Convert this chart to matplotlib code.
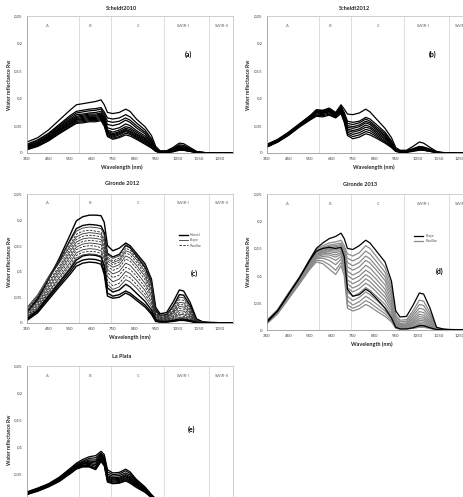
import matplotlib
matplotlib.use('Agg')
import matplotlib.pyplot as plt
from matplotlib.lines import Line2D

plt.rcParams['font.family'] = ['Lato', 'DejaVu Sans']

# ---------------- data ----------------
WAVELENGTH = [350, 400, 450, 500, 550, 580, 610, 640, 670, 695, 710, 725, 750, 780, 810,
              830, 860, 900, 930, 950, 970, 1000, 1030, 1060, 1080, 1110, 1140, 1170, 1200, 1310]

XTICKS = [350, 450, 550, 650, 750, 850, 950, 1050, 1150, 1250]
YTICKS = [0, 0.05, 0.1, 0.15, 0.2, 0.25]
YTICK_LABELS = ['0', '0,05', '0,1', '0,15', '0,2', '0,25']
REGION_NAMES = ['A', 'B', 'C', 'SWIR-I', 'SWIR-II']
REGION_LABEL_X = [445, 645, 868, 1080, 1257]
REGION_BOUNDS = [592, 742, 990, 1200]

SCHELDT2010 = [
    [0.020, 0.028, 0.042, 0.060, 0.078, 0.088, 0.090, 0.092, 0.094, 0.097, 0.088, 0.074, 0.072, 0.074, 0.080, 0.076, 0.062, 0.048, 0.032, 0.012, 0.004, 0.004, 0.010, 0.018, 0.017, 0.010, 0.003, 0.001, 0, 0],
    [0.016, 0.024, 0.036, 0.052, 0.068, 0.076, 0.078, 0.080, 0.081, 0.083, 0.075, 0.064, 0.062, 0.064, 0.070, 0.066, 0.055, 0.042, 0.026, 0.009, 0.003, 0.003, 0.008, 0.015, 0.014, 0.008, 0.002, 0.001, 0, 0],
    [0.014, 0.022, 0.034, 0.050, 0.065, 0.073, 0.075, 0.077, 0.078, 0.080, 0.071, 0.058, 0.056, 0.058, 0.064, 0.060, 0.050, 0.038, 0.023, 0.008, 0.003, 0.003, 0.007, 0.013, 0.012, 0.007, 0.002, 0.001, 0, 0],
    [0.013, 0.020, 0.032, 0.048, 0.062, 0.070, 0.071, 0.073, 0.074, 0.076, 0.067, 0.052, 0.050, 0.053, 0.060, 0.056, 0.046, 0.035, 0.020, 0.007, 0.002, 0.002, 0.006, 0.012, 0.011, 0.006, 0.002, 0.001, 0, 0],
    [0.012, 0.019, 0.030, 0.046, 0.060, 0.067, 0.069, 0.071, 0.071, 0.073, 0.064, 0.046, 0.043, 0.046, 0.053, 0.050, 0.041, 0.031, 0.018, 0.006, 0.002, 0.002, 0.005, 0.010, 0.009, 0.005, 0.002, 0, 0, 0],
    [0.011, 0.018, 0.029, 0.044, 0.058, 0.065, 0.067, 0.069, 0.069, 0.071, 0.062, 0.042, 0.038, 0.042, 0.048, 0.046, 0.038, 0.028, 0.016, 0.005, 0.002, 0.002, 0.005, 0.009, 0.009, 0.005, 0.001, 0, 0, 0],
    [0.010, 0.017, 0.028, 0.043, 0.056, 0.063, 0.065, 0.067, 0.067, 0.069, 0.059, 0.040, 0.035, 0.039, 0.045, 0.043, 0.035, 0.026, 0.015, 0.005, 0.002, 0.002, 0.004, 0.008, 0.008, 0.004, 0.001, 0, 0, 0],
    [0.010, 0.016, 0.027, 0.041, 0.054, 0.061, 0.063, 0.065, 0.065, 0.067, 0.057, 0.038, 0.033, 0.037, 0.043, 0.040, 0.033, 0.024, 0.014, 0.004, 0.001, 0.001, 0.004, 0.008, 0.007, 0.004, 0.001, 0, 0, 0],
    [0.009, 0.015, 0.026, 0.040, 0.053, 0.060, 0.061, 0.063, 0.063, 0.065, 0.055, 0.036, 0.031, 0.035, 0.041, 0.038, 0.031, 0.022, 0.013, 0.004, 0.001, 0.001, 0.003, 0.007, 0.007, 0.004, 0.001, 0, 0, 0],
    [0.008, 0.014, 0.025, 0.038, 0.051, 0.058, 0.059, 0.061, 0.061, 0.063, 0.053, 0.034, 0.029, 0.033, 0.039, 0.036, 0.029, 0.020, 0.012, 0.004, 0.001, 0.001, 0.003, 0.006, 0.006, 0.003, 0.001, 0, 0, 0],
    [0.007, 0.013, 0.023, 0.036, 0.049, 0.056, 0.057, 0.059, 0.059, 0.061, 0.051, 0.032, 0.027, 0.030, 0.036, 0.034, 0.027, 0.018, 0.010, 0.003, 0.001, 0.001, 0.003, 0.006, 0.005, 0.003, 0.001, 0, 0, 0],
    [0.006, 0.012, 0.022, 0.035, 0.047, 0.054, 0.055, 0.057, 0.057, 0.059, 0.049, 0.030, 0.025, 0.028, 0.033, 0.031, 0.025, 0.016, 0.009, 0.003, 0.001, 0.001, 0.002, 0.005, 0.005, 0.003, 0.001, 0, 0, 0],
]

SCHELDT2012 = [
    [0.016, 0.025, 0.038, 0.053, 0.068, 0.079, 0.078, 0.082, 0.074, 0.088, 0.080, 0.071, 0.070, 0.073, 0.080, 0.075, 0.062, 0.045, 0.028, 0.010, 0.005, 0.005, 0.012, 0.020, 0.018, 0.010, 0.003, 0.001, 0, 0],
    [0.015, 0.024, 0.037, 0.052, 0.067, 0.078, 0.077, 0.080, 0.072, 0.085, 0.074, 0.058, 0.056, 0.058, 0.065, 0.062, 0.052, 0.038, 0.022, 0.007, 0.004, 0.004, 0.008, 0.012, 0.011, 0.007, 0.002, 0, 0, 0],
    [0.014, 0.023, 0.036, 0.051, 0.066, 0.077, 0.076, 0.079, 0.071, 0.084, 0.071, 0.054, 0.052, 0.055, 0.062, 0.058, 0.048, 0.035, 0.020, 0.006, 0.003, 0.003, 0.007, 0.011, 0.010, 0.006, 0.002, 0, 0, 0],
    [0.014, 0.023, 0.036, 0.051, 0.066, 0.076, 0.075, 0.078, 0.070, 0.082, 0.068, 0.050, 0.048, 0.051, 0.058, 0.055, 0.045, 0.032, 0.018, 0.006, 0.003, 0.003, 0.006, 0.010, 0.009, 0.005, 0.001, 0, 0, 0],
    [0.013, 0.022, 0.035, 0.050, 0.065, 0.075, 0.074, 0.077, 0.069, 0.081, 0.066, 0.047, 0.045, 0.048, 0.055, 0.052, 0.042, 0.030, 0.016, 0.005, 0.003, 0.003, 0.006, 0.009, 0.008, 0.005, 0.001, 0, 0, 0],
    [0.013, 0.022, 0.035, 0.050, 0.064, 0.074, 0.073, 0.076, 0.068, 0.080, 0.064, 0.044, 0.041, 0.044, 0.051, 0.048, 0.039, 0.027, 0.015, 0.005, 0.002, 0.002, 0.005, 0.008, 0.008, 0.004, 0.001, 0, 0, 0],
    [0.012, 0.021, 0.034, 0.049, 0.063, 0.073, 0.072, 0.075, 0.067, 0.078, 0.062, 0.041, 0.038, 0.041, 0.047, 0.045, 0.036, 0.025, 0.013, 0.004, 0.002, 0.002, 0.005, 0.007, 0.007, 0.004, 0.001, 0, 0, 0],
    [0.012, 0.021, 0.034, 0.049, 0.062, 0.071, 0.070, 0.073, 0.066, 0.076, 0.060, 0.038, 0.034, 0.037, 0.043, 0.041, 0.033, 0.022, 0.012, 0.004, 0.002, 0.002, 0.004, 0.007, 0.006, 0.003, 0.001, 0, 0, 0],
    [0.011, 0.020, 0.033, 0.048, 0.061, 0.069, 0.068, 0.071, 0.065, 0.074, 0.058, 0.035, 0.030, 0.033, 0.039, 0.037, 0.030, 0.020, 0.011, 0.003, 0.002, 0.002, 0.004, 0.006, 0.005, 0.003, 0.001, 0, 0, 0],
    [0.011, 0.020, 0.032, 0.047, 0.060, 0.067, 0.066, 0.069, 0.064, 0.072, 0.056, 0.032, 0.026, 0.029, 0.035, 0.033, 0.027, 0.018, 0.010, 0.003, 0.001, 0.001, 0.003, 0.005, 0.005, 0.003, 0.001, 0, 0, 0],
]

GIRONDE2012_SITE = ['Nassel', 'Nassel', 'Blaye', 'Pauillac', 'Blaye', 'Pauillac', 'Blaye', 'Pauillac',
                    'Blaye', 'Pauillac', 'Blaye', 'Pauillac', 'Blaye', 'Nassel', 'Nassel', 'Nassel']
GIRONDE2012 = [
    [0.020, 0.045, 0.085, 0.125, 0.170, 0.198, 0.206, 0.209, 0.209, 0.208, 0.195, 0.150, 0.140, 0.145, 0.155, 0.150, 0.135, 0.115, 0.085, 0.030, 0.018, 0.020, 0.040, 0.064, 0.062, 0.040, 0.008, 0.002, 0.001, 0],
    [0.022, 0.048, 0.085, 0.120, 0.160, 0.183, 0.189, 0.191, 0.190, 0.188, 0.175, 0.135, 0.128, 0.133, 0.150, 0.146, 0.130, 0.108, 0.078, 0.025, 0.015, 0.016, 0.032, 0.055, 0.054, 0.034, 0.006, 0.002, 0.001, 0],
    [0.030, 0.055, 0.090, 0.122, 0.158, 0.178, 0.184, 0.186, 0.185, 0.183, 0.170, 0.132, 0.125, 0.130, 0.152, 0.148, 0.133, 0.112, 0.080, 0.022, 0.014, 0.015, 0.030, 0.050, 0.049, 0.030, 0.005, 0.001, 0.001, 0],
    [0.025, 0.050, 0.085, 0.118, 0.152, 0.172, 0.178, 0.180, 0.178, 0.176, 0.162, 0.128, 0.120, 0.126, 0.145, 0.141, 0.127, 0.105, 0.074, 0.020, 0.012, 0.013, 0.026, 0.045, 0.044, 0.027, 0.004, 0.001, 0, 0],
    [0.028, 0.052, 0.086, 0.116, 0.148, 0.167, 0.173, 0.175, 0.174, 0.172, 0.158, 0.124, 0.117, 0.122, 0.140, 0.137, 0.123, 0.100, 0.070, 0.018, 0.011, 0.012, 0.023, 0.040, 0.039, 0.024, 0.004, 0.001, 0, 0],
    [0.022, 0.046, 0.080, 0.110, 0.143, 0.162, 0.168, 0.170, 0.169, 0.167, 0.153, 0.120, 0.113, 0.118, 0.136, 0.132, 0.118, 0.095, 0.066, 0.016, 0.010, 0.011, 0.021, 0.036, 0.035, 0.021, 0.003, 0.001, 0, 0],
    [0.020, 0.043, 0.076, 0.106, 0.138, 0.157, 0.163, 0.165, 0.164, 0.162, 0.148, 0.115, 0.108, 0.113, 0.130, 0.126, 0.112, 0.090, 0.062, 0.015, 0.009, 0.010, 0.019, 0.032, 0.031, 0.019, 0.003, 0.001, 0, 0],
    [0.018, 0.040, 0.072, 0.102, 0.133, 0.152, 0.158, 0.160, 0.159, 0.157, 0.143, 0.110, 0.102, 0.107, 0.124, 0.120, 0.106, 0.084, 0.057, 0.013, 0.008, 0.009, 0.017, 0.028, 0.027, 0.016, 0.002, 0.001, 0, 0],
    [0.016, 0.037, 0.068, 0.098, 0.128, 0.147, 0.153, 0.155, 0.154, 0.152, 0.137, 0.104, 0.095, 0.100, 0.116, 0.112, 0.098, 0.077, 0.052, 0.012, 0.007, 0.008, 0.014, 0.024, 0.023, 0.014, 0.002, 0, 0, 0],
    [0.014, 0.034, 0.064, 0.093, 0.123, 0.142, 0.148, 0.150, 0.149, 0.146, 0.131, 0.098, 0.088, 0.093, 0.108, 0.104, 0.091, 0.070, 0.047, 0.010, 0.006, 0.007, 0.012, 0.020, 0.019, 0.012, 0.002, 0, 0, 0],
    [0.012, 0.031, 0.060, 0.088, 0.117, 0.136, 0.142, 0.144, 0.143, 0.140, 0.125, 0.090, 0.080, 0.085, 0.100, 0.096, 0.083, 0.063, 0.041, 0.009, 0.005, 0.006, 0.010, 0.017, 0.016, 0.010, 0.001, 0, 0, 0],
    [0.011, 0.029, 0.057, 0.084, 0.112, 0.131, 0.137, 0.139, 0.138, 0.135, 0.119, 0.082, 0.072, 0.077, 0.092, 0.088, 0.075, 0.056, 0.036, 0.008, 0.005, 0.005, 0.009, 0.014, 0.013, 0.008, 0.001, 0, 0, 0],
    [0.010, 0.027, 0.054, 0.080, 0.107, 0.126, 0.132, 0.134, 0.133, 0.130, 0.113, 0.075, 0.065, 0.070, 0.084, 0.080, 0.068, 0.050, 0.031, 0.007, 0.004, 0.004, 0.007, 0.011, 0.011, 0.007, 0.001, 0, 0, 0],
    [0.008, 0.025, 0.052, 0.078, 0.104, 0.122, 0.130, 0.132, 0.131, 0.128, 0.110, 0.068, 0.060, 0.064, 0.075, 0.070, 0.058, 0.042, 0.025, 0.006, 0.003, 0.003, 0.005, 0.008, 0.008, 0.005, 0.001, 0, 0, 0],
    [0.007, 0.023, 0.049, 0.074, 0.099, 0.116, 0.122, 0.124, 0.123, 0.120, 0.100, 0.058, 0.052, 0.055, 0.062, 0.058, 0.048, 0.035, 0.020, 0.004, 0.002, 0.002, 0.004, 0.006, 0.006, 0.004, 0.001, 0, 0, 0],
    [0.005, 0.020, 0.045, 0.070, 0.094, 0.110, 0.116, 0.118, 0.117, 0.114, 0.094, 0.052, 0.048, 0.050, 0.058, 0.054, 0.044, 0.031, 0.017, 0.003, 0.002, 0.002, 0.003, 0.005, 0.005, 0.003, 0, 0, 0, 0],
]

GIRONDE2013_SITE = ['Blaye', 'Blaye'] + ['Pauillac'] * 14
GIRONDE2013 = [
    [0.014, 0.035, 0.065, 0.095, 0.130, 0.150, 0.160, 0.168, 0.172, 0.178, 0.168, 0.150, 0.148, 0.155, 0.165, 0.160, 0.145, 0.125, 0.090, 0.035, 0.024, 0.025, 0.045, 0.068, 0.066, 0.040, 0.005, 0.002, 0.001, 0],
    [0.016, 0.036, 0.066, 0.095, 0.128, 0.145, 0.150, 0.152, 0.150, 0.152, 0.135, 0.075, 0.062, 0.065, 0.075, 0.070, 0.058, 0.040, 0.022, 0.005, 0.002, 0.002, 0.004, 0.008, 0.008, 0.004, 0.001, 0, 0, 0],
    [0.018, 0.038, 0.068, 0.097, 0.130, 0.148, 0.155, 0.160, 0.162, 0.165, 0.155, 0.140, 0.136, 0.142, 0.155, 0.150, 0.135, 0.115, 0.082, 0.028, 0.018, 0.019, 0.035, 0.055, 0.053, 0.032, 0.004, 0.001, 0, 0],
    [0.017, 0.037, 0.067, 0.096, 0.128, 0.146, 0.152, 0.156, 0.158, 0.160, 0.150, 0.132, 0.127, 0.133, 0.145, 0.140, 0.126, 0.106, 0.075, 0.024, 0.015, 0.016, 0.030, 0.047, 0.045, 0.027, 0.004, 0.001, 0, 0],
    [0.016, 0.036, 0.066, 0.095, 0.127, 0.145, 0.150, 0.154, 0.155, 0.157, 0.146, 0.124, 0.118, 0.124, 0.136, 0.131, 0.117, 0.098, 0.068, 0.020, 0.012, 0.013, 0.026, 0.040, 0.038, 0.023, 0.003, 0.001, 0, 0],
    [0.016, 0.035, 0.065, 0.094, 0.126, 0.143, 0.148, 0.152, 0.153, 0.155, 0.143, 0.116, 0.110, 0.116, 0.128, 0.123, 0.110, 0.091, 0.062, 0.017, 0.010, 0.011, 0.022, 0.034, 0.032, 0.019, 0.003, 0.001, 0, 0],
    [0.015, 0.035, 0.064, 0.093, 0.124, 0.141, 0.146, 0.150, 0.150, 0.152, 0.140, 0.108, 0.101, 0.107, 0.119, 0.114, 0.101, 0.083, 0.056, 0.015, 0.009, 0.010, 0.019, 0.029, 0.027, 0.016, 0.002, 0.001, 0, 0],
    [0.015, 0.034, 0.063, 0.092, 0.123, 0.140, 0.145, 0.148, 0.148, 0.150, 0.137, 0.100, 0.093, 0.099, 0.110, 0.105, 0.093, 0.075, 0.050, 0.013, 0.008, 0.008, 0.016, 0.025, 0.023, 0.014, 0.002, 0, 0, 0],
    [0.014, 0.034, 0.062, 0.091, 0.122, 0.139, 0.143, 0.146, 0.145, 0.148, 0.134, 0.092, 0.085, 0.091, 0.102, 0.097, 0.085, 0.068, 0.045, 0.011, 0.007, 0.007, 0.014, 0.021, 0.020, 0.012, 0.002, 0, 0, 0],
    [0.014, 0.033, 0.062, 0.090, 0.121, 0.138, 0.142, 0.144, 0.142, 0.145, 0.131, 0.085, 0.077, 0.083, 0.094, 0.089, 0.077, 0.061, 0.040, 0.010, 0.006, 0.006, 0.012, 0.018, 0.017, 0.010, 0.001, 0, 0, 0],
    [0.013, 0.033, 0.061, 0.089, 0.120, 0.137, 0.140, 0.141, 0.138, 0.142, 0.128, 0.078, 0.070, 0.076, 0.086, 0.081, 0.070, 0.054, 0.035, 0.008, 0.005, 0.005, 0.010, 0.015, 0.014, 0.008, 0.001, 0, 0, 0],
    [0.013, 0.032, 0.060, 0.088, 0.118, 0.135, 0.138, 0.138, 0.134, 0.139, 0.124, 0.070, 0.062, 0.068, 0.078, 0.073, 0.062, 0.047, 0.030, 0.007, 0.004, 0.004, 0.008, 0.012, 0.011, 0.007, 0.001, 0, 0, 0],
    [0.013, 0.032, 0.060, 0.087, 0.117, 0.133, 0.135, 0.134, 0.128, 0.135, 0.120, 0.062, 0.054, 0.060, 0.070, 0.065, 0.055, 0.041, 0.026, 0.006, 0.003, 0.003, 0.006, 0.010, 0.009, 0.005, 0.001, 0, 0, 0],
    [0.012, 0.031, 0.059, 0.086, 0.116, 0.131, 0.132, 0.128, 0.120, 0.130, 0.115, 0.054, 0.046, 0.052, 0.062, 0.057, 0.048, 0.035, 0.022, 0.005, 0.003, 0.003, 0.005, 0.008, 0.007, 0.004, 0.001, 0, 0, 0],
    [0.012, 0.031, 0.058, 0.085, 0.114, 0.128, 0.127, 0.120, 0.110, 0.124, 0.108, 0.046, 0.040, 0.045, 0.054, 0.050, 0.041, 0.030, 0.018, 0.004, 0.002, 0.002, 0.004, 0.006, 0.006, 0.003, 0, 0, 0, 0],
    [0.012, 0.030, 0.057, 0.084, 0.112, 0.125, 0.122, 0.112, 0.102, 0.118, 0.100, 0.040, 0.035, 0.039, 0.047, 0.043, 0.035, 0.025, 0.015, 0.003, 0.002, 0.002, 0.003, 0.005, 0.005, 0.003, 0, 0, 0, 0],
]

LA_PLATA = [
    [0.017, 0.024, 0.032, 0.044, 0.060, 0.070, 0.077, 0.082, 0.084, 0.092, 0.086, 0.058, 0.052, 0.053, 0.059, 0.054, 0.040, 0.026, 0.012, 0.004, 0.002, 0.002, 0.003, 0.004, 0.004, 0.002, 0.001, 0, 0, 0],
    [0.016, 0.023, 0.031, 0.043, 0.058, 0.068, 0.074, 0.079, 0.080, 0.089, 0.082, 0.054, 0.049, 0.050, 0.056, 0.051, 0.038, 0.025, 0.011, 0.004, 0.002, 0.002, 0.003, 0.004, 0.004, 0.002, 0.001, 0, 0, 0],
    [0.015, 0.022, 0.030, 0.042, 0.057, 0.066, 0.072, 0.076, 0.076, 0.087, 0.079, 0.050, 0.046, 0.047, 0.052, 0.048, 0.036, 0.023, 0.010, 0.003, 0.002, 0.002, 0.003, 0.003, 0.003, 0.002, 0.001, 0, 0, 0],
    [0.015, 0.021, 0.030, 0.041, 0.056, 0.065, 0.070, 0.074, 0.073, 0.085, 0.077, 0.047, 0.043, 0.044, 0.049, 0.045, 0.034, 0.022, 0.009, 0.003, 0.001, 0.001, 0.002, 0.003, 0.003, 0.002, 0.001, 0, 0, 0],
    [0.014, 0.021, 0.029, 0.040, 0.055, 0.064, 0.069, 0.072, 0.070, 0.083, 0.075, 0.045, 0.041, 0.042, 0.047, 0.043, 0.032, 0.021, 0.009, 0.003, 0.001, 0.001, 0.002, 0.003, 0.003, 0.001, 0.001, 0, 0, 0],
    [0.014, 0.020, 0.028, 0.039, 0.054, 0.063, 0.068, 0.070, 0.067, 0.081, 0.073, 0.043, 0.039, 0.040, 0.045, 0.041, 0.031, 0.020, 0.008, 0.002, 0.001, 0.001, 0.002, 0.003, 0.002, 0.001, 0, 0, 0, 0],
    [0.013, 0.020, 0.028, 0.039, 0.053, 0.062, 0.066, 0.068, 0.064, 0.079, 0.071, 0.041, 0.037, 0.038, 0.043, 0.039, 0.029, 0.019, 0.008, 0.002, 0.001, 0.001, 0.002, 0.002, 0.002, 0.001, 0, 0, 0, 0],
    [0.013, 0.019, 0.027, 0.038, 0.052, 0.061, 0.065, 0.066, 0.061, 0.077, 0.069, 0.039, 0.035, 0.036, 0.041, 0.037, 0.028, 0.018, 0.007, 0.002, 0.001, 0.001, 0.002, 0.002, 0.002, 0.001, 0, 0, 0, 0],
    [0.012, 0.019, 0.027, 0.037, 0.051, 0.060, 0.064, 0.064, 0.059, 0.075, 0.067, 0.037, 0.033, 0.034, 0.039, 0.035, 0.026, 0.017, 0.007, 0.002, 0.001, 0.001, 0.002, 0.002, 0.002, 0.001, 0, 0, 0, 0],
    [0.012, 0.018, 0.026, 0.036, 0.050, 0.059, 0.063, 0.063, 0.058, 0.073, 0.065, 0.035, 0.032, 0.033, 0.037, 0.033, 0.025, 0.016, 0.006, 0.002, 0.001, 0.001, 0.001, 0.002, 0.002, 0.001, 0, 0, 0, 0],
]

TITLES = ['Scheldt2010', 'Scheldt2012', 'Gironde 2012', 'Gironde 2013', 'La Plata']
PANEL_TAGS = ['(a)', '(b)', '(c)', '(d)', '(e)']

# ---------------- layout ----------------
W, H = 464, 497
fig = plt.figure(figsize=(W / 100, H / 100), dpi=100)
fig.patch.set_facecolor('white')

def px_axes(left, top, right, bottom):
    return fig.add_axes([left / W, 1 - bottom / H, (right - left) / W, (bottom - top) / H])

SPINE = '#9a9a9a'
TICKC = '#444444'

def style(ax, tag, tag_xy, title, title_xy, ylab_xy, xlab_xy):
    ax.set_xlim(350, 1310)
    ax.set_ylim(0, 0.25)
    ax.set_xticks(XTICKS)
    ax.set_xticklabels([str(t) for t in XTICKS])
    ax.set_yticks(YTICKS)
    ax.set_yticklabels(YTICK_LABELS)
    ax.tick_params(length=0, labelsize=3.2, labelcolor=TICKC, pad=3)
    for s in ['left', 'bottom', 'top', 'right']:
        ax.spines[s].set_color(SPINE)
        ax.spines[s].set_linewidth(0.6)
    ax.spines['top'].set_color('#c8c8c8')
    ax.spines['right'].set_color('#c8c8c8')
    for b in REGION_BOUNDS:
        ax.axvline(b, color='#d0d0d0', lw=0.5, zorder=0)
    for name, x in zip(REGION_NAMES, REGION_LABEL_X):
        ax.text(x, 0.232, name, fontsize=3, color='#666666', ha='center', va='center')
    ax.text(tag_xy[0], tag_xy[1], tag, fontsize=5, fontweight='bold', ha='center', va='center')
    fig.text(title_xy[0] / W, 1 - title_xy[1] / H, title, fontsize=4, fontweight='bold',
             ha='center', va='center', color='#222222')
    fig.text(ylab_xy[0] / W, 1 - ylab_xy[1] / H, 'Water reflectance Rw', fontsize=3.7,
             fontweight='bold', rotation=90, ha='center', va='center', color='#222222')
    if xlab_xy is not None:
        fig.text(xlab_xy[0] / W, 1 - xlab_xy[1] / H, 'Wavelength (nm)', fontsize=3.9,
                 fontweight='bold', ha='center', va='center', color='#222222')

# (a)
ax_a = px_axes(27, 16, 233, 153)
for c in SCHELDT2010:
    ax_a.plot(WAVELENGTH, c, color='black', lw=0.9)
style(ax_a, '(a)', (1100, 0.18), TITLES[0], (122, 8), (10, 85), (122, 167))

# (b)
ax_b = px_axes(267, 16, 473, 153)
for c in SCHELDT2012:
    ax_b.plot(WAVELENGTH, c, color='black', lw=0.9)
style(ax_b, '(b)', (1120, 0.18), TITLES[1], (355, 8), (249, 85), (374, 167))

# (c)
ax_c = px_axes(27, 194, 233, 323)
site_style = {'Nassel': dict(color='black', lw=1.0, ls='-'),
              'Blaye': dict(color='#333333', lw=0.6, ls='-'),
              'Pauillac': dict(color='#222222', lw=0.6, ls=(0, (3, 1.5)))}
seen = set()
for site, c in zip(GIRONDE2012_SITE, GIRONDE2012):
    lab = site if site not in seen else None
    seen.add(site)
    ax_c.plot(WAVELENGTH, c, label=lab, **site_style[site])
style(ax_c, '(c)', (1128, 0.097), TITLES[2], (122, 183), (10, 262), (130, 337))
h = [Line2D([], [], **site_style[s]) for s in ['Nassel', 'Blaye', 'Pauillac']]
ax_c.legend(h, ['Nassel', 'Blaye', 'Pauillac'], loc='upper left', bbox_to_anchor=(0.72, 0.72),
            frameon=False, fontsize=2.6, handlelength=2.5, labelspacing=0.3, handletextpad=0.6,
            labelcolor='#555555')

# (d)
ax_d = px_axes(267, 194, 473, 330)
d_style = {'Blaye': dict(color='black', lw=0.9), 'Pauillac': dict(color='#8a8a8a', lw=0.9)}
order = list(range(2, len(GIRONDE2013))) + [0, 1]
for i in order:
    ax_d.plot(WAVELENGTH, GIRONDE2013[i], **d_style[GIRONDE2013_SITE[i]])
style(ax_d, '(d)', (1155, 0.108), TITLES[3], (360, 184), (249, 262), (372, 344))
h = [Line2D([], [], **d_style[s]) for s in ['Blaye', 'Pauillac']]
ax_d.legend(h, ['Blaye', 'Pauillac'], loc='upper left', bbox_to_anchor=(0.70, 0.73),
            frameon=False, fontsize=2.6, handlelength=2.5, labelspacing=0.3, handletextpad=0.6,
            labelcolor='#555555')

# (e)
ax_e = px_axes(27, 366, 233, 501)
for c in LA_PLATA:
    ax_e.plot(WAVELENGTH, c, color='black', lw=0.9)
style(ax_e, '(e)', (1116, 0.133), TITLES[4], (122, 357), (10, 440), None)

fig.savefig('out.png', dpi=100, facecolor='white')
